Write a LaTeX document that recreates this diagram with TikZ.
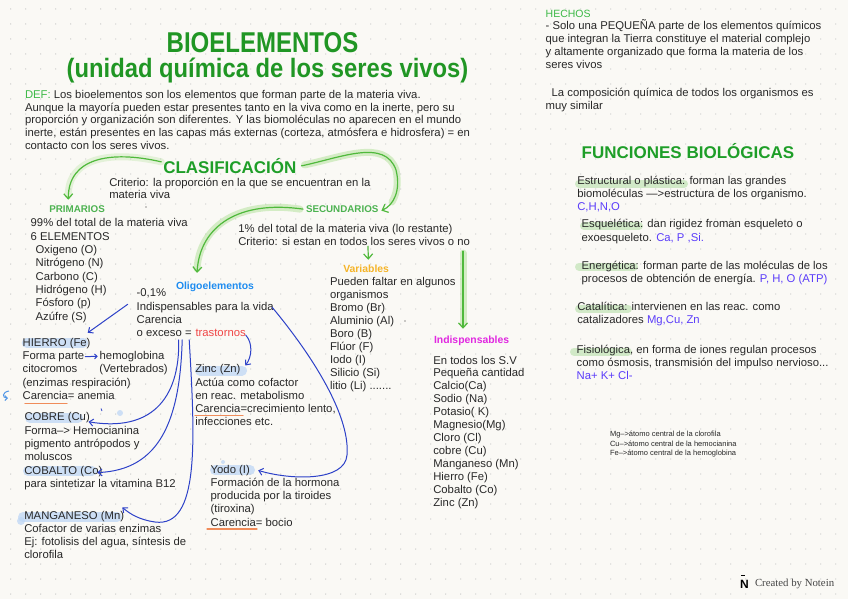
\documentclass[tikz,border=0pt]{standalone}
\usepackage{fontspec}
\setmainfont{Liberation Sans}
\newfontfamily\notefont{Liberation Serif}
\usepackage{graphicx}
\usetikzlibrary{arrows.meta,calc}
\definecolor{bgc}{RGB}{250,249,245}
\definecolor{dotc}{RGB}{200,200,198}
\definecolor{txtc}{RGB}{40,40,40}
\definecolor{gtitle}{RGB}{32,150,36}
\definecolor{gdef}{RGB}{60,185,70}
\definecolor{ghead}{RGB}{76,178,80}
\definecolor{gclas}{RGB}{30,158,40}
\definecolor{varc}{RGB}{245,180,40}
\definecolor{indc}{RGB}{225,40,225}
\definecolor{oligc}{RGB}{30,140,240}
\definecolor{redc}{RGB}{240,70,70}
\definecolor{fblue}{RGB}{90,60,250}
\definecolor{arrb}{RGB}{45,65,200}
\definecolor{hookb}{RGB}{80,150,230}
\definecolor{hlblue}{RGB}{190,215,245}
\definecolor{hlgreen}{RGB}{205,232,195}
\definecolor{orangec}{RGB}{240,140,90}
\definecolor{garrc}{RGB}{80,185,60}
\definecolor{gbandc}{RGB}{175,225,150}
\definecolor{notec}{RGB}{70,70,70}
\newcommand\bl[1]{\vtop{\halign{##\hfil\cr#1\crcr}}}
\newcommand\fsz[2]{\fontsize{#1}{#2}\selectfont}
\begin{document}
\begin{tikzpicture}[x=1pt,y=-1pt,
  txt/.style={anchor=base west,inner sep=0pt,outer sep=0pt,text=txtc,font={\fsz{11.3}{13.3}}},
  hd/.style={txt,font={\fsz{10.4}{12}\bfseries}},
  hlb/.style={line width=10pt,line cap=round,draw=hlblue,opacity=0.75},
  hlg/.style={line width=8pt,line cap=round,draw=hlgreen,opacity=0.9},
  uline/.style={line width=1.1pt,draw=orangec,line cap=round},
  garr/.style={draw=garrc,line width=1.2pt,line cap=round,-{Straight Barb[length=5pt,width=9pt]}},
  gband/.style={draw=gbandc,line width=7pt,line cap=round,opacity=0.5},
  barr/.style={draw=arrb,line width=1pt,line cap=round,-{Straight Barb[length=4pt,width=7pt]}}]
\fill[bgc] (0,0) rectangle (848,599);
\useasboundingbox (0,0) rectangle (848,599);
\foreach \i in {0,...,56} \foreach \j in {0,...,39}
  \fill[dotc] (10.7+\i*15,9+\j*15) circle (0.7);
% highlights
\draw[hlb] (26.7,343) -- (83.3,343);
\draw[hlb] (30,418) -- (78,418);
\draw[hlb] (28,471) -- (92,471);
\draw[hlb] (23,517) -- (117,517);
\fill[hlblue,opacity=0.75] (21,521) circle (4);
\draw[hlb] (200,370.5) -- (242,370.5);
\draw[hlb] (215,470) -- (250,470);
\fill[hlblue,opacity=0.75] (120,413) circle (3);
\fill[hlblue,opacity=0.75] (223,462) circle (2);
\draw[hlg] (579,183.5) -- (684,183.5);
\draw[hlg] (584,226) -- (639,226);
\draw[hlg] (579,266.5) -- (634,266.5);
\draw[hlg] (579,308.5) -- (628,308.5);
\draw[hlg] (574,351.5) -- (628,351.5);
\draw[uline] (25,403.3) -- (67,403.3);
\draw[uline] (195,415.7) -- (243,415.7);
\draw[uline] (207,529) -- (257,529);
% title
\node[txt] (title) at (166.7,53) {\resizebox{191.6pt}{20pt}{\bfseries\color{gtitle}BIOELEMENTOS}};
\node[txt] (subt) at (66.7,78) {\resizebox{401.6pt}{19.5pt}{\bfseries\color{gtitle}(unidad química de los seres vivos)}};
\node[txt,font={\fsz{11.3}{12.8}}] (def) at (25,98.3) {\bl{\textcolor{gdef}{DEF:} Los bioelementos son los elementos que forman parte de la materia viva.\cr Aunque la mayoría pueden estar presentes tanto en la viva como en la inerte, pero su\cr proporción y organización son diferentes. Y las biomoléculas no aparecen en el mundo\cr inerte, están presentes en las capas más externas (corteza, atmósfera e hidrosfera) = en\cr contacto con los seres vivos.}};
% hechos
\node[txt,font={\fsz{10.5}{13}},text=gdef] (hechos) at (545.7,17.7) {HECHOS};
\node[txt,font={\fsz{11.3}{13}}] (hech1) at (545.7,29.5) {\bl{- Solo una PEQUEÑA parte de los elementos químicos\cr que integran la Tierra constituye el material complejo\cr y altamente organizado que forma la materia de los\cr seres vivos}};
\node[txt] (hech2) at (545.7,96.7) {\bl{\kern6pt La composición química de todos los organismos es\cr muy similar}};
% clasificacion
\node[txt,font={\fsz{17}{20}\bfseries},text=gclas] (clas) at (163.3,173.3) {CLASIFICACIÓN};
\node[txt,font={\fsz{11.3}{12}}] (crit) at (109.3,186) {\bl{Criterio: la proporción en la que se encuentran en la\cr materia viva}};
\node[txt,font={\fsz{9.8}{12}\bfseries},text=ghead] (prim) at (49.3,212.5) {PRIMARIOS};
\node[txt,font={\fsz{9.8}{12}\bfseries},text=ghead] (sec) at (306,212.5) {SECUNDARIOS};
\node[txt,font={\fsz{11.3}{13.33}}] (primb) at (30.7,226.7) {\bl{99\% del total de la materia viva\cr 6 ELEMENTOS\cr\kern5pt Oxigeno (O)\cr\kern5pt Nitrógeno (N)\cr\kern5pt Carbono (C)\cr\kern5pt Hidrógeno (H)\cr\kern5pt Fósforo (p)\cr\kern5pt Azúfre (S)}};
\node[txt,font={\fsz{11.3}{12.7}}] (secb) at (238.3,232.3) {\bl{1\% del total de la materia viva (lo restante)\cr Criterio: si estan en todos los seres vivos o no}};
% variables
\node[hd,text=varc] (var) at (343.3,272.3) {Variables};
\node[txt,font={\fsz{11.3}{13}}] (varb) at (330,285) {\bl{Pueden faltar en algunos\cr organismos\cr Bromo (Br)\cr Aluminio (Al)\cr Boro (B)\cr Flúor (F)\cr Iodo (I)\cr Silicio (Si)\cr litio (Li) .......}};
% indispensables
\node[hd,text=indc] (ind) at (434,343.3) {Indispensables};
\node[txt,font={\fsz{11.3}{12.97}}] (indb) at (433.3,364) {\bl{En todos los S.V\cr Pequeña cantidad\cr Calcio(Ca)\cr Sodio (Na)\cr Potasio( K)\cr Magnesio(Mg)\cr Cloro (Cl)\cr cobre (Cu)\cr Manganeso (Mn)\cr Hierro (Fe)\cr Cobalto (Co)\cr Zinc (Zn)}};
% oligo
\node[hd,text=oligc] (olig) at (176,289.3) {Oligoelementos};
\node[txt,font={\fsz{11.3}{13.33}}] (oligb) at (136.7,296.7) {\bl{-0,1\%\cr Indispensables para la vida\cr Carencia\cr o exceso =}};
\node[txt,text=redc] (tras) at (195.5,336.7) {trastornos};
% hierro
\node[txt] (hierro) at (22.7,346) {HIERRO (Fe)};
\node[txt] (fp) at (22.7,359.3) {Forma parte};
\node[txt] (hemo) at (99.7,359.3) {hemoglobina};
\node[txt,font={\fsz{11.3}{13.33}}] (hierb) at (22.7,372.7) {\bl{\makebox[76.6pt][l]{citocromos}(Vertebrados)\cr (enzimas respiración)\cr Carencia= anemia}};
% cobre etc
\node[txt] (cobre) at (24.5,420.7) {COBRE (Cu)};
\node[txt,font={\fsz{11.3}{13.2}}] (cobreb) at (24.5,434) {\bl{Forma--> Hemocianina\cr pigmento antrópodos y\cr moluscos}};
\node[txt] (cobalto) at (24.3,474) {COBALTO (Co)};
\node[txt] (cobaltob) at (24.3,487) {para sintetizar la vitamina B12};
\node[txt] (manga) at (24.3,519.3) {MANGANESO (Mn)};
\node[txt,font={\fsz{11.3}{13.1}}] (mangab) at (24.3,532.3) {\bl{Cofactor de varias enzimas\cr Ej: fotolisis del agua, síntesis de\cr clorofila}};
% zinc, yodo
\node[txt] (zinc) at (195.3,372.7) {Zinc (Zn)};
\node[txt] (zincb) at (195.3,386) {\bl{Actúa como cofactor\cr en reac. metabolismo\cr Carencia=crecimiento lento,\cr infecciones etc.}};
\node[txt] (yodo) at (210.7,473.3) {Yodo (I)};
\node[txt,font={\fsz{11.3}{13.1}}] (yodob) at (210.7,486.7) {\bl{Formación de la hormona\cr producida por la tiroides\cr (tiroxina)\cr Carencia= bocio}};
% funciones
\node[txt,font={\fsz{17}{20}\bfseries},text=gclas] (func) at (581.7,158.3) {FUNCIONES BIOLÓGICAS};
\node[txt,font={\fsz{11.3}{13.2}}] (estr) at (577.3,184.3) {\bl{Estructural o plástica: forman las grandes\cr biomoléculas --->estructura de los organismo.\cr \textcolor{fblue}{C,H,N,O}}};
\node[txt] (esq) at (581.7,227.7) {\bl{Esquelética: dan rigidez froman esqueleto o\cr exoesqueleto. \textcolor{fblue}{Ca, P ,Si.}}};
\node[txt] (ener) at (581.7,269) {\bl{Energética: forman parte de las moléculas de los\cr procesos de obtención de energía. \textcolor{fblue}{P, H, O (ATP)}}};
\node[txt] (cata) at (577.3,310) {\bl{Catalítica: intervienen en las reac. como\cr catalizadores \textcolor{fblue}{Mg,Cu, Zn}}};
\node[txt] (fisi) at (576.7,353.3) {\bl{Fisiológica, en forma de iones regulan procesos\cr como ósmosis, transmisión del impulso nervioso...\cr \textcolor{fblue}{Na+ K+ Cl-}}};
\node[txt,font={\fsz{7.5}{9.3}}] (tiny) at (610,436.7) {\bl{Mg-->átomo central de la clorofila\cr Cu-->átomo central de la hemocianina\cr Fe-->átomo central de la hemoglobina}};
% notein
\node[txt,font={\notefont\fsz{10.8}{12}},text=notec] (notein) at (755,586) {Created by Notein};
\node[txt,font={\fsz{12}{12}\bfseries},text=black] (logo) at (740,588) {N};
\fill[black] (740.5,574.5) rectangle (745,576);
% small marks
\fill[txtc] (146,207) circle (0.7);
\fill[txtc] (405,321) circle (0.7);
\draw[arrb,line width=0.8pt] (101,408.5) -- (102,411);
% green arrows
\draw[gband,opacity=0.3] ($(clas.west)+(-2,-4)$) .. controls (110,150) and (68,158) .. ($(prim.north west)+(19,-10)$);
\draw[garr] ($(clas.west)+(-2,-4)$) .. controls (110,150) and (68,158) .. ($(prim.north west)+(19,-6)$);
\draw[gband] ($(clas.east)+(8,-1)$) .. controls (340,158) and (385,138) .. (396,170) .. controls (399,185) and (396,195) .. (392,202);
\draw[garr] ($(clas.east)+(5,0)$) .. controls (340,158) and (385,138) .. (396,170) .. controls (401,190) and (394,205) .. ($(sec.north east)+(3,5)$);
\draw[gband] ($(sec.west)+(-6,0)$) .. controls (240,200) and (200,225) .. ($(olig.north west)+(21,-13)$);
\draw[garr] ($(sec.west)+(-3,0)$) .. controls (240,200) and (200,225) .. ($(olig.north west)+(21,-9)$);
\draw[garr] ($(secb.south west)+(129.7,1)$) -- ($(var.north west)+(25,-5)$);
\draw[gband] ($(secb.south west)+(224.7,8)$) -- ($(ind.north west)+(29,-12)$);
\draw[garr] ($(secb.south west)+(224.7,6)$) -- ($(ind.north west)+(29,-7)$);
% blue arrows
\draw[barr] ($(oligb.north west)+(-9,15.5)$) -- ($(hierro.north west)+(65,-5)$);
\draw[barr] ($(oligb.south west)+(42,3)$) .. controls (180,400) and (150,432) .. ($(cobre.west)+(64,4)$);
\draw[barr] ($(oligb.south west)+(45.5,3)$) .. controls (180,420) and (160,470) .. ($(cobalto.west)+(73,1.5)$);
\draw[barr] ($(oligb.south west)+(52.5,3)$) .. controls (195,440) and (200,528) .. (155,522) .. controls (140,520) and (130,514) .. ($(manga.west)+(98,-9)$);
\draw[barr] ($(tras.east)+(0,2)$) .. controls (253,343) and (252,357) .. ($(zinc.north west)+(50,1)$);
\draw[barr] ($(oligb.north west)+(135.5,18.5)$) .. controls (320,365) and (350,420) .. (347,455) .. controls (345,482) and (290,480) .. ($(yodo.west)+(47.5,0)$);
\draw[barr,-{Straight Barb[length=2.5pt,width=5pt]}] ($(fp.east)+(1,0)$) -- ($(hemo.west)+(-2,0)$);
\draw[hookb,line width=1pt,-{Straight Barb[length=2.5pt,width=5pt]}] (9,391) .. controls (2,392) and (2,398) .. (8,398);
\end{tikzpicture}
\end{document}
